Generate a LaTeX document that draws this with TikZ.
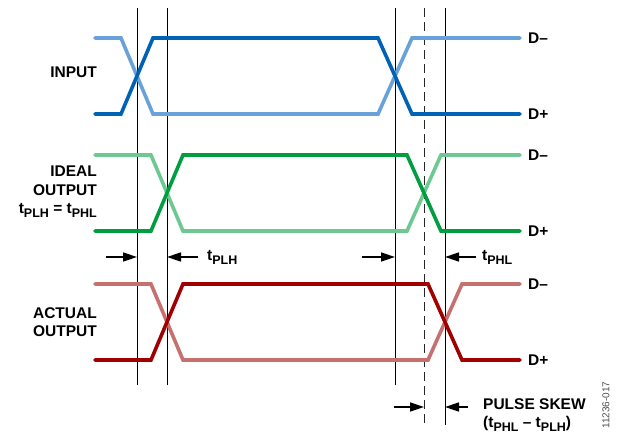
\documentclass[tikz,border=0pt]{standalone}
\usepackage{fontspec}
\setmainfont{Liberation Sans}
\usetikzlibrary{arrows.meta}
\definecolor{bluedk}{RGB}{0,98,180}
\definecolor{bluelt}{RGB}{104,162,216}
\definecolor{greendk}{RGB}{0,158,64}
\definecolor{greenlt}{RGB}{110,200,146}
\definecolor{reddk}{RGB}{160,0,0}
\definecolor{redlt}{RGB}{198,112,112}
\newcommand{\tsub}[1]{t\raisebox{-4pt}{\fontsize{12.5}{12.5}\selectfont #1}}
\begin{document}
\begin{tikzpicture}[x=1pt,y=-1pt,
            wave/.style={line width=3.6pt, line cap=round},
            marker/.style={line width=0.8pt},
            skew/.style={line width=0.8pt, dash pattern=on 9pt off 5pt, black!85},
            timing/.style={line width=1.6pt, -{Triangle[length=14pt,width=9pt]}},
            every node/.style={inner sep=0pt, font=\fontsize{15.5}{18.5}\selectfont\bfseries}]
\useasboundingbox (0,0) rectangle (619,437);

\draw[marker] (137,8) coordinate (l1t) -- (137,385) coordinate (l1b);
\draw[marker] (167,8) coordinate (l2t) -- (167,385) coordinate (l2b);
\draw[marker] (395,8) coordinate (l3t) -- (395,385) coordinate (l3b);
\draw[skew] (424,8) coordinate (l4t) -- (424,425) coordinate (l4b);
\draw[marker] (445,8) coordinate (l5t) -- (445,425) coordinate (l5b);

\draw[wave, bluelt] (95,38) -- (121,38) -- (153,114) -- (378,114) -- (412,38) -- (520,38);
\draw[wave, bluedk] (95,114) -- (121,114) -- (153,38) -- (378,38) -- (412,114) -- (520,114);
\draw[wave, greenlt] (95,155) -- (151,155) -- (183,231) -- (407,231) -- (441,155) -- (520,155);
\draw[wave, greendk] (95,231) -- (151,231) -- (183,155) -- (407,155) -- (441,231) -- (520,231);
\draw[wave, redlt] (95,284) -- (151,284) -- (183,360) -- (428,360) -- (462,284) -- (520,284);
\draw[wave, reddk] (95,360) -- (151,360) -- (183,284) -- (428,284) -- (462,360) -- (520,360);

\node[anchor=east] (input) at (97,72) {INPUT};
\node[anchor=east, align=right] (ideal) at (97,192) {IDEAL\\OUTPUT\\\tsub{PLH} = \tsub{PHL}};
\node[anchor=east, align=right] (actual) at (97,322) {ACTUAL\\OUTPUT};

\node[anchor=west] (inm) at (528,38) {D–};
\node[anchor=west] (inp) at (528,114) {D+};
\node[anchor=west] (idm) at (528,155) {D–};
\node[anchor=west] (idp) at (528,231) {D+};
\node[anchor=west] (acm) at (528,284) {D–};
\node[anchor=west] (acp) at (528,360) {D+};

\coordinate (a1) at (106,257);
\coordinate (a2) at (198,257);
\coordinate (a3) at (362,257);
\coordinate (a4) at (476,257);
\draw[timing] (a1) -- (l1t |- a1);
\draw[timing] (a2) -- (l2t |- a2);
\draw[timing] (a3) -- (l3t |- a3);
\draw[timing] (a4) -- (l5t |- a4);
\node[anchor=west] (tplh) at (207,257) {\tsub{PLH}};
\node[anchor=west] (tphl) at (482,257) {\tsub{PHL}};

\coordinate (s1) at (394,407);
\coordinate (s2) at (468,407);
\draw[timing] (s1) -- (l4t |- s1);
\draw[timing] (s2) -- (l5t |- s2);
\node[anchor=west, align=left] (pskew) at (483,415) {PULSE SKEW\\(\tsub{PHL} – \tsub{PLH})};

\node[rotate=90, font=\fontsize{10}{10}\selectfont, black!70] (fig) at (606,405) {11236-017};
\end{tikzpicture}
\end{document}
